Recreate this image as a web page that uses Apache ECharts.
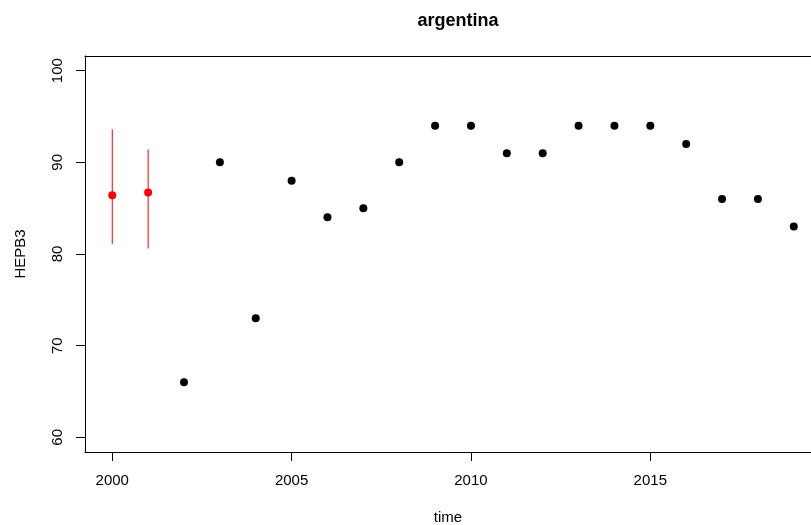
<!DOCTYPE html>
<html><head><meta charset="utf-8">
<script src="https://cdn.jsdelivr.net/npm/echarts@6/dist/echarts.min.js"></script>
<style>html,body{margin:0;padding:0;background:#fff}#c{width:811px;height:525px}</style>
</head><body><div id="c"></div>
<script>
const years = [2002,2003,2004,2005,2006,2007,2008,2009,2010,2011,2012,2013,2014,2015,2016,2017,2018,2019];
const values = [66,90,73,88,84,85,90,94,94,91,91,94,94,94,92,86,86,83];
const estYears = [2000,2001];
const estValues = [86.4,86.7];
const estLow = [81.1,80.6];
const estHigh = [93.6,91.4];
const xTicks = [2000,2005,2010,2015];
const yTicks = [60,70,80,90,100];

const font = 'Liberation Sans, Arial, Helvetica, sans-serif';
const chart = echarts.init(document.getElementById('c'), null, {renderer:'canvas'});
const xMin = 1999.24, xMax = 2019.48;
chart.setOption({
  animation:false,
  backgroundColor:'#fff',
  title:{text:'argentina', left:453, top:7, textAlign:'center',
    textStyle:{fontFamily:font, fontSize:18, fontWeight:'bold', color:'#000'}},
  grid:{left:85, right:0, top:56, bottom:73, containLabel:false, outerBoundsMode:'none'},
  xAxis:[{
    type:'value', min:xMin, max:xMax, position:'bottom',
    name:'time', nameLocation:'middle', nameGap:58,
    nameTextStyle:{fontFamily:font, fontSize:15, color:'#000'},
    splitLine:{show:false},
    axisLine:{show:true, onZero:false, lineStyle:{color:'#000', width:1}},
    axisTick:{show:true, length:9, customValues:xTicks, lineStyle:{color:'#000'}},
    axisLabel:{show:true, customValues:xTicks, margin:21, fontFamily:font, fontSize:15, color:'#000',
      formatter:function(v){return String(Math.round(v));}}
  },{
    type:'value', min:xMin, max:xMax, position:'top',
    splitLine:{show:false},
    axisLine:{show:true, onZero:false, lineStyle:{color:'#000', width:1}},
    axisTick:{show:false}, axisLabel:{show:false}
  }],
  yAxis:{
    type:'value', min:58.4, max:101.6,
    name:'HEPB3', nameLocation:'middle', nameGap:57, nameRotate:90,
    nameTextStyle:{fontFamily:font, fontSize:15, color:'#000'},
    splitLine:{show:false},
    axisLine:{show:true, onZero:false, lineStyle:{color:'#000', width:1}},
    axisTick:{show:true, length:9, customValues:yTicks, lineStyle:{color:'#000'}},
    axisLabel:{show:true, customValues:yTicks, rotate:90, margin:20, fontFamily:font, fontSize:15, color:'#000',
      formatter:function(v){return String(Math.round(v));}}
  },
  series:[
    {type:'custom', xAxisIndex:0,
      data: estYears.map((y,i)=>[y, estLow[i], estHigh[i]]),
      renderItem:function(params, api){
        const p1 = api.coord([api.value(0), api.value(1)]);
        const p2 = api.coord([api.value(0), api.value(2)]);
        return {type:'line', shape:{x1:p1[0], y1:p1[1], x2:p2[0], y2:p2[1]},
          style:{stroke:'#ff0000', lineWidth:1}};
      }, z:2},
    {type:'scatter', xAxisIndex:0, symbol:'circle', symbolSize:8,
      itemStyle:{color:'#ff0000', opacity:1},
      data: estYears.map((y,i)=>[y, estValues[i]]), z:3},
    {type:'scatter', xAxisIndex:0, symbol:'circle', symbolSize:8,
      itemStyle:{color:'#000', opacity:1},
      data: years.map((y,i)=>[y, values[i]]), z:3}
  ]
});
</script></body></html>
